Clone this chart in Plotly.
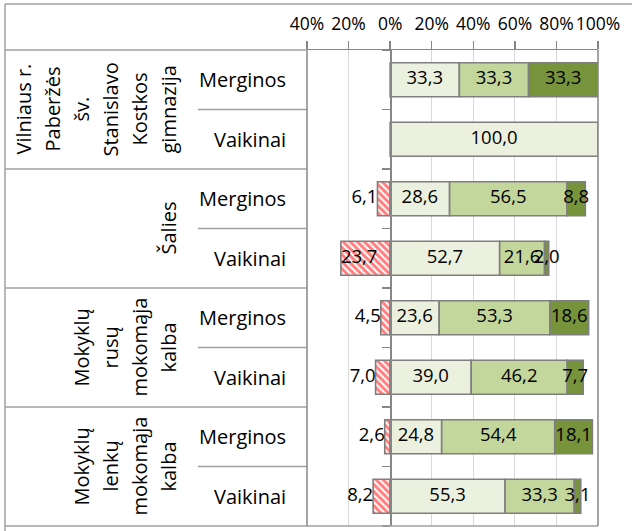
import plotly.graph_objects as go

# ---------------- data ----------------
group_lines = [
    ["Vilniaus r.", "Paberžės", "šv.", "Stanislavo", "Kostkos", "gimnazija"],
    ["Šalies"],
    ["Mokyklų", "rusų", "mokomąja", "kalba"],
    ["Mokyklų", "lenkų", "mokomąja", "kalba"],
]
genders = ["Merginos", "Vaikinai"]

neg = [0.0, 0.0, 6.1, 23.7, 4.5, 7.0, 2.6, 8.2]
s1 = [33.3, 100.0, 28.6, 52.7, 23.6, 39.0, 24.8, 55.3]
s2 = [33.3, 0.0, 56.5, 21.6, 53.3, 46.2, 54.4, 33.3]
s3 = [33.3, 0.0, 8.8, 2.0, 18.6, 7.7, 18.1, 3.1]

x_ticks = [-40, -20, 0, 20, 40, 60, 80, 100]
x_tick_labels = ["40%", "20%", "0%", "20%", "40%", "60%", "80%", "100%"]

# ---------------- layout geometry ----------------
W, H = 632, 531
PL, PR, PT, PB = 307, 598, 50, 526   # plot area in pixels
XMIN, XMAX = -40, 100
FONT = "Open Sans"
BORDER = "#868686"
TABLE = "#A0A0A0"


def px_x(px):
    return (px - PL) / (PR - PL)


def px_y(py):
    return 1 - (py - PT) / (PB - PT)


n_rows = len(s1)
rows = list(range(n_rows))


def fmt(v):
    return f"{v:.1f}".replace(".", ",")


def nz(vals, sign=1):
    return [sign * v if v > 0 else None for v in vals]


fig = go.Figure()

bar_line = dict(color="#7F7F7F", width=1.6)
fig.add_trace(go.Bar(
    y=rows, x=nz(neg, -1), orientation="h", width=0.57,
    marker=dict(color="white", line=bar_line,
                pattern=dict(shape="\\", fgcolor="#FF0000", bgcolor="white",
                             size=5, solidity=0.6)),
    hoverinfo="skip", showlegend=False))
for vals, col in [(s1, "#EBF1DE"), (s2, "#C3D69B"), (s3, "#77933C")]:
    fig.add_trace(go.Bar(
        y=rows, x=nz(vals), orientation="h", width=0.57,
        marker=dict(color=col, line=bar_line),
        hoverinfo="skip", showlegend=False))

# data labels (centered on positive segments)
lx, ly, lt = [], [], []
for i in rows:
    cum = 0.0
    for vals in (s1, s2, s3):
        v = vals[i]
        if v > 0:
            lx.append(cum + v / 2)
            ly.append(i)
            lt.append(fmt(v))
            cum += v
fig.add_trace(go.Scatter(
    x=lx, y=ly, text=lt, mode="text", textposition="middle center",
    textfont=dict(family=FONT, size=18.5, color="black"),
    cliponaxis=False, hoverinfo="skip", showlegend=False))

# negative labels
nx, ny, nt, npos = [], [], [], []
for i in rows:
    v = neg[i]
    if v > 0:
        nx.append(-v)
        ny.append(i)
        nt.append(fmt(v))
        npos.append("middle right" if v >= 15 else "middle left")
fig.add_trace(go.Scatter(
    x=nx, y=ny, text=nt, mode="text", textposition=npos,
    textfont=dict(family=FONT, size=18.5, color="black"),
    cliponaxis=False, hoverinfo="skip", showlegend=False))

# ---------------- table decorations ----------------
annotations = []
for i in rows:
    annotations.append(dict(
        x=px_x(288), xref="paper", y=i, yref="y", text=genders[i % 2],
        showarrow=False, xanchor="right", yanchor="middle",
        font=dict(family=FONT, size=20, color="black")))
for g, lines in enumerate(group_lines):
    n = len(lines)
    for k, line in enumerate(lines):
        cx = 168 - (n - 1 - k) * 29
        annotations.append(dict(
            x=px_x(cx), xref="paper", y=2 * g + 0.5, yref="y", text=line,
            showarrow=False, textangle=-90, xanchor="center", yanchor="middle",
            font=dict(family=FONT, size=20, color="black")))

shapes = []
# outer border
shapes.append(dict(type="line", xref="paper", yref="paper",
                   x0=px_x(5), x1=px_x(640), y0=px_y(4), y1=px_y(4),
                   line=dict(color=TABLE, width=1.5)))
shapes.append(dict(type="line", xref="paper", yref="paper",
                   x0=px_x(5), x1=px_x(5), y0=px_y(4), y1=px_y(540),
                   line=dict(color=TABLE, width=1.5)))
# header bottom
shapes.append(dict(type="line", xref="paper", yref="paper",
                   x0=px_x(5), x1=0, y0=1, y1=1,
                   line=dict(color=TABLE, width=1.5)))
# group separators
for b in [1.5, 3.5, 5.5]:
    shapes.append(dict(type="line", xref="paper", yref="y",
                       x0=px_x(5), x1=0, y0=b, y1=b,
                       line=dict(color=TABLE, width=1.5)))
# inner separators
for b in [0.5, 2.5, 4.5, 6.5]:
    shapes.append(dict(type="line", xref="paper", yref="y",
                       x0=px_x(198), x1=0, y0=b, y1=b,
                       line=dict(color=TABLE, width=1.5)))
# bottom line
shapes.append(dict(type="line", xref="paper", yref="paper",
                   x0=px_x(5), x1=1, y0=0, y1=0,
                   line=dict(color=TABLE, width=1.5)))
# plot left/right borders
for xp in (0, 1):
    shapes.append(dict(type="line", xref="paper", yref="paper",
                       x0=xp, x1=xp, y0=0, y1=1,
                       line=dict(color=BORDER, width=1.5)))

fig.update_layout(
    width=W, height=H, autosize=False,
    margin=dict(l=PL, r=W - PR, t=PT, b=H - PB, pad=0),
    paper_bgcolor="white", plot_bgcolor="white",
    barmode="relative", bargap=0.43,
    font=dict(family=FONT, size=18, color="black"),
    showlegend=False,
    annotations=annotations, shapes=shapes,
    xaxis=dict(range=[XMIN, XMAX], side="top", tickvals=x_ticks,
               ticktext=x_tick_labels, showgrid=True, gridcolor="#D9D9D9",
               gridwidth=1, zeroline=False, showline=True,
               linecolor=BORDER, linewidth=1.5, ticks="outside", ticklen=8,
               tickcolor=BORDER, tickwidth=1.3, ticklabelstandoff=4,
               tickangle=0,
               tickfont=dict(family=FONT, size=17.5, color="black"),
               fixedrange=True),
    yaxis=dict(range=[n_rows - 0.5, -0.5], anchor="free",
               position=(0 - XMIN) / (XMAX - XMIN),
               tickvals=[r - 0.5 for r in range(n_rows + 1)],
               showticklabels=False, ticks="outside", ticklen=8,
               tickcolor=BORDER, tickwidth=1.3, showline=True,
               linecolor=BORDER, linewidth=1.5, showgrid=False,
               zeroline=False, fixedrange=True),
)

fig.write_html("out.html",
               config={"displayModeBar": False, "staticPlot": True},
               post_script="document.body.style.margin='0';"
                           "document.body.style.overflow='hidden';")
